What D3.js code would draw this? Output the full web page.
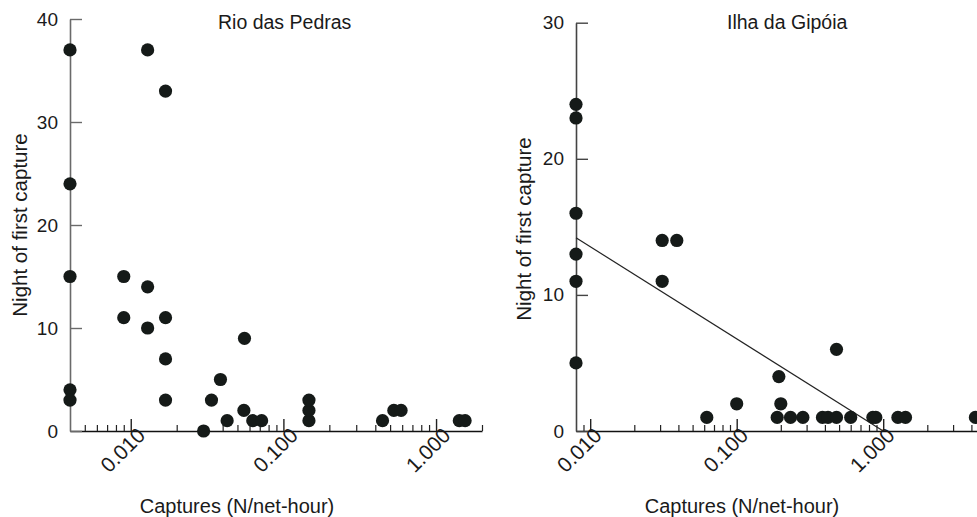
<!DOCTYPE html>
<html>
<head>
<meta charset="utf-8">
<script src="https://cdn.jsdelivr.net/npm/d3@7"></script>
<style>
  body { margin: 0; background: #fff; }
  svg text { font-family: "Liberation Sans", Arial, sans-serif; fill: #1a1a1a; }
</style>
</head>
<body>
<svg id="Vis" width="977" height="517"></svg>
<script>
// Rio das Pedras
var rioX = [0.004, 0.004, 0.004, 0.004, 0.004, 0.0129, 0.0169, 0.009, 0.009, 0.0129,
            0.0129, 0.0169, 0.0169, 0.0169, 0.030, 0.0338, 0.0387, 0.0428, 0.0551, 0.0556,
            0.063, 0.072, 0.147, 0.147, 0.147, 0.446, 0.529, 0.59, 1.42, 1.55];
var rioY = [37, 24, 15, 4, 3, 37, 33, 15, 11, 14,
            10, 11, 7, 3, 0, 3, 5, 1, 2, 9,
            1, 1, 1, 2, 3, 1, 2, 2, 1, 1];

// Ilha da Gipóia
var ilhaX = [0.008, 0.008, 0.008, 0.008, 0.008, 0.008, 0.031, 0.039, 0.031, 0.0625,
             0.1, 0.194, 0.2, 0.189, 0.233, 0.283, 0.385, 0.42, 0.48, 0.48,
             0.60, 0.85, 0.89, 1.26, 1.42, 4.26];
var ilhaY = [24, 23, 16, 13, 11, 5, 14, 14, 11, 1,
             2, 4, 2, 1, 1, 1, 1, 1, 1, 6,
             1, 1, 1, 1, 1, 1];

// fitted line, Ilha da Gipóia
var fitX = [0.008, 1.0];
var fitY = [14.2, 0];

var xTickLabels = ["0.010", "0.100", "1.000"];
var xMajor = [0.01, 0.1, 1];

var svg = d3.select("#Vis");

function drawPanel(opt){
  var g = svg.append("g");
  var x = d3.scaleLog().domain(opt.xDomain).range(opt.xRange);
  var y = d3.scaleLinear().domain(opt.yDomain).range(opt.yRange);
  var y0 = opt.yRange[0];

  var minor = x.ticks().filter(function(v){
    var l = Math.log10(v);
    return Math.abs(l - Math.round(l)) > 1e-6 && v > opt.xDomain[0] * 1.0001;
  });

  // minor x ticks
  g.append("g")
   .attr("transform", "translate(0," + y0 + ")")
   .call(d3.axisBottom(x).tickValues(minor).tickSize(-6).tickSizeOuter(0).tickFormat(""))
   .call(function(s){
     s.select(".domain").attr("stroke", "#111").attr("stroke-width", 1.6);
     s.selectAll(".tick line").attr("stroke", "#222").attr("stroke-width", 1.2);
   });

  // major x ticks
  var xa = g.append("g")
   .attr("transform", "translate(0," + y0 + ")")
   .call(d3.axisBottom(x).tickValues(xMajor).tickSize(-12).tickSizeOuter(0).tickFormat(""));
  xa.select(".domain").remove();
  xa.selectAll(".tick line").attr("stroke", "#222").attr("stroke-width", 1.4);

  g.selectAll("text.xlab")
   .data(xMajor)
   .enter()
   .append("text")
   .attr("class", "xlab")
   .attr("text-anchor", "middle")
   .attr("dy", "0.35em")
   .style("font-size", "21px")
   .attr("transform", function(d){ return "translate(" + (x(d) - opt.labShift) + "," + (y0 + 19) + ") rotate(-45)"; })
   .text(function(d,i){ return xTickLabels[i]; });

  // y axis
  var ya = g.append("g")
   .attr("transform", "translate(" + opt.xRange[0] + ",0)")
   .call(d3.axisLeft(y).tickValues(opt.yTicks).tickSize(-12).tickSizeOuter(0).tickPadding(12));
  ya.select(".domain").attr("stroke", opt.yColor).attr("stroke-width", 1.6);
  ya.selectAll(".tick line").attr("stroke", opt.yColor).attr("stroke-width", 1.4);
  ya.selectAll(".tick text")
    .style("font-size", "19px")
    .style("font-family", "'Liberation Sans', Arial, sans-serif")
    .attr("fill", "#1a1a1a");

  // fit line
  if(opt.fitX){
    g.append("path")
     .datum(d3.zip(opt.fitX, opt.fitY))
     .attr("fill", "none")
     .attr("stroke", "#222")
     .attr("stroke-width", 1.2)
     .attr("d", d3.line().x(function(d){ return x(d[0]); }).y(function(d){ return y(d[1]); }));
  }

  // points
  g.selectAll("circle.dot")
   .data(d3.zip(opt.xs, opt.ys))
   .enter()
   .append("circle")
   .attr("class", "dot")
   .attr("cx", function(d){ return x(d[0]); })
   .attr("cy", function(d){ return y(d[1]); })
   .attr("r", 6.6)
   .attr("fill", "#151a18");

  // titles
  g.append("text")
   .attr("x", opt.titleX).attr("y", 29)
   .attr("text-anchor", "start")
   .style("font-size", "19.5px")
   .text(opt.title);

  g.append("text")
   .attr("x", opt.xTitleX).attr("y", 513)
   .attr("text-anchor", "middle")
   .style("font-size", "20px")
   .text("Captures (N/net-hour)");

  g.append("text")
   .attr("transform", "translate(" + opt.yTitleX + "," + opt.yTitleY + ") rotate(-90)")
   .attr("text-anchor", "middle")
   .style("font-size", "20.5px")
   .text("Night of first capture");
}

drawPanel({
  xDomain: [0.004, 2], xRange: [70, 482],
  yDomain: [0, 40], yRange: [431, 19], yTicks: [0, 10, 20, 30, 40],
  yColor: "#6a6a6a", labShift: 8,
  xs: rioX, ys: rioY,
  title: "Rio das Pedras", titleX: 218,
  xTitleX: 237, yTitleX: 27, yTitleY: 225
});

drawPanel({
  xDomain: [0.008, 5], xRange: [576, 985.6],
  yDomain: [0, 30], yRange: [431, 22.7], yTicks: [0, 10, 20, 30],
  yColor: "#444", labShift: 11,
  xs: ilhaX, ys: ilhaY,
  fitX: fitX, fitY: fitY,
  title: "Ilha da Gipóia", titleX: 727,
  xTitleX: 742, yTitleX: 531, yTitleY: 229
});
</script>
</body>
</html>
